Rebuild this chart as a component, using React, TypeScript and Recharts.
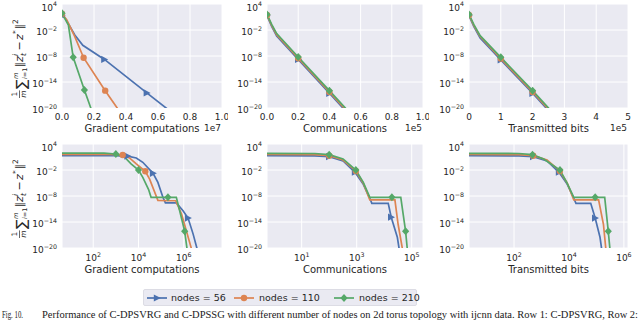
import React from "react";
import { CartesianGrid, Label, Line, LineChart, XAxis, YAxis } from "recharts";

const nodeCounts = [56, 110, 210];
const seriesColors = ["#4C72B0", "#DD8452", "#55A868"];

// Row 1: C-DPSVRG (linear x)
const svrgGradX56 = [0, 2e5, 8e5, 1.3e6, 2.65e6, 5.3e6, 8e6];
const svrgGradY56 = [20, 5, 7e-4, 3e-6, 1.6e-9, 3e-17, 5e-25];
const svrgGradMarks56 = [0, 4, 5];
const svrgGradX110 = [0, 3e5, 8e5, 1.35e6, 2.7e6, 3.45e6, 4.5e6];
const svrgGradY110 = [60, 2, 3e-4, 4e-9, 1e-16, 1e-20, 3e-26];
const svrgGradMarks110 = [0, 3, 4];
const svrgGradX210 = [0, 4e5, 7e5, 1.4e6, 1.8e6, 2.5e6];
const svrgGradY210 = [70, 0.14, 5e-9, 1.4e-16, 1e-20, 1e-27];
const svrgGradMarks210 = [0, 2, 3];

const svrgCommX = [0, 3e3, 6.2e3, 2e4, 4e4, 6e4];
const svrgCommY56 = [20, 0.07, 4e-4, 1.6e-9, 2.5e-17, 3.5e-25];
const svrgCommY110 = [30, 0.12, 8e-4, 3e-9, 5e-17, 7e-25];
const svrgCommY210 = [40, 0.2, 1.5e-3, 6e-9, 1e-16, 1.5e-24];
const svrgCommMarks = [0, 3, 4];

const svrgBitsX = [0, 1.5e4, 3.5e4, 1e5, 2e5, 3e5];
const svrgBitsY56 = [20, 0.07, 1.5e-4, 1.2e-9, 2.5e-17, 2.5e-25];
const svrgBitsY110 = [30, 0.12, 3e-4, 2.5e-9, 5e-17, 5e-25];
const svrgBitsY210 = [40, 0.2, 5e-4, 5e-9, 1e-16, 1e-24];
const svrgBitsMarks = [0, 3, 4];

// Row 2: C-DPSSG (log x)
const ssgGradX56 = [3, 800, 3300, 8000, 1.55e4, 4.4e4, 7.2e4, 1.2e5, 1.55e5, 4.7e5, 9.3e5, 1.55e6, 2.6e6, 3.9e6, 6e6];
const ssgGradY56 = [20, 20, 16, 6, 0.6, 1.7e-3, 1.4e-5, 5e-9, 2.5e-10, 2.5e-10, 4e-12, 8e-14, 1.6e-17, 6e-21, 1e-25];
const ssgGradMarks56 = [2, 5, 11];
const ssgGradX110 = [3, 500, 2000, 4000, 8000, 2e4, 3.1e4, 7.2e4, 2e5, 4.4e5, 8e5, 1.3e6, 2.2e6, 3e6];
const ssgGradY110 = [40, 40, 30, 6, 0.25, 5e-3, 8e-5, 1e-9, 8e-10, 8e-10, 7e-13, 1e-16, 6e-21, 1e-24];
const ssgGradMarks110 = [2, 5];
const ssgGradX210 = [3, 300, 1000, 2500, 4700, 1e4, 1.55e4, 2.8e4, 3.6e4, 2e5, 4.7e5, 6.6e5, 1.1e6, 1.4e6, 2e6];
const ssgGradY210 = [80, 80, 50, 8, 0.25, 1e-2, 2e-4, 3e-7, 5e-9, 5e-9, 5e-9, 4e-12, 7e-17, 6e-21, 1e-25];
const ssgGradMarks210 = [2, 5, 9, 12];

const ssgCommX56 = [0.3, 30, 100, 320, 870, 1740, 3000, 3550, 1.4e4, 1.8e4, 3e4, 3.5e4, 4.2e4];
const ssgCommY56 = [20, 18, 12, 1.2, 3e-3, 5e-6, 3e-9, 2e-10, 2e-10, 1.3e-13, 3e-18, 6e-21, 1e-25];
const ssgCommMarks56 = [2, 4, 9];
const ssgCommX110 = [0.3, 30, 100, 320, 930, 1740, 3000, 2.45e4, 3.2e4, 4.6e4, 5.5e4];
const ssgCommY110 = [40, 35, 20, 2, 6e-3, 9e-6, 1.3e-9, 1.3e-9, 3e-15, 6e-21, 1e-25];
const ssgCommMarks110 = [2, 4];
const ssgCommX210 = [0.3, 30, 100, 320, 930, 1740, 3000, 1.9e4, 4e4, 6e4, 6.9e4, 8e4];
const ssgCommY210 = [70, 65, 35, 3.5, 1e-2, 1.4e-5, 5e-9, 5e-9, 5e-9, 7e-17, 6e-21, 1e-26];
const ssgCommMarks210 = [2, 4, 7, 9];

const ssgBitsX56 = [1, 150, 500, 1600, 4350, 8700, 1.5e4, 1.8e4, 6.2e4, 9e4, 1.35e5, 1.55e5, 1.9e5];
const ssgBitsY56 = [20, 18, 12, 1.2, 3e-3, 5e-6, 3e-9, 2e-10, 2e-10, 8e-14, 3e-18, 6e-21, 1e-25];
const ssgBitsMarks56 = [2, 4, 9];
const ssgBitsX110 = [1, 150, 500, 1600, 4650, 8700, 1.5e4, 1.2e5, 1.8e5, 2.2e5, 2.7e5];
const ssgBitsY110 = [40, 35, 20, 2, 6e-3, 9e-6, 1.3e-9, 1.3e-9, 3e-15, 6e-21, 1e-25];
const ssgBitsMarks110 = [2, 4];
const ssgBitsX210 = [1, 150, 470, 1200, 4700, 8300, 1.5e4, 9e4, 2e5, 2.7e5, 3.1e5, 3.6e5];
const ssgBitsY210 = [70, 65, 35, 3.5, 1e-2, 1.4e-5, 5e-9, 5e-9, 5e-9, 7e-17, 6e-21, 1e-26];
const ssgBitsMarks210 = [2, 4, 7, 9];

const yTicks = [1e4, 1e-2, 1e-8, 1e-14, 1e-20];
const gradTicks = [0, 2e6, 4e6, 6e6, 8e6, 1e7];
const commTicks = [0, 2e4, 4e4, 6e4, 8e4, 1e5];
const bitsTicks = [0, 1e5, 2e5, 3e5, 4e5, 5e5];
const logTicksEven = [1e2, 1e4, 1e6];
const logTicksOdd = [1e1, 1e3, 1e5];

const PLOT_H = 104;
const Y_AXIS_W = 50;
const M_TOP = 4;
const M_RIGHT = 6;
const X_AXIS_H = 32;
const textColor = "#262626";
const font = "DejaVu Sans";

type Row = { x: number; y: number };
type SeriesDef = { rows: Row[]; marks: number[] };

const toRows = (xs: number[], ys: number[]): Row[] => xs.map((x, i) => ({ x, y: ys[i] }));

const supText = (e: number) => (e < 0 ? "\u2212" + Math.abs(e) : String(e));

function Marker({ kind, cx, cy }: { kind: number; cx: number; cy: number }) {
    const color = seriesColors[kind];
    if (kind === 0) {
        return (
            <polygon
                points={`${cx - 3.2},${cy - 3.6} ${cx + 3.8},${cy} ${cx - 3.2},${cy + 3.6}`}
                fill={color}
            />
        );
    }
    if (kind === 1) {
        return <circle cx={cx} cy={cy} r={3.2} fill={color} />;
    }
    return (
        <polygon
            points={`${cx},${cy - 4} ${cx + 3.6},${cy} ${cx},${cy + 4} ${cx - 3.6},${cy}`}
            fill={color}
        />
    );
}

function YTick(props: any) {
    const { x, y, payload } = props;
    const e = Math.round(Math.log10(payload.value));
    // the top label sits a little lower so its exponent stays inside the figure
    const base = e === 4 ? y + 6.8 : y + 5.2;
    return (
        <text x={x - 5} y={base} textAnchor="end" fontSize={9} fontFamily={font} fill={textColor}>
            10
            <tspan dy={-4.5} fontSize={6.3}>
                {supText(e)}
            </tspan>
        </text>
    );
}

function LogXTick(props: any) {
    const { x, y, payload } = props;
    const e = Math.round(Math.log10(payload.value));
    return (
        <text x={x} y={y + 13.3} textAnchor="middle" fontSize={9} fontFamily={font} fill={textColor}>
            10
            <tspan dy={-4.5} fontSize={6.3}>
                {supText(e)}
            </tspan>
        </text>
    );
}

interface PanelProps {
    plotLeft: number;
    plotTop: number;
    plotWidth: number;
    series: SeriesDef[];
    xDomain: [number, number];
    xTicks: number[];
    xLog: boolean;
    xLabel: string;
    labelDy: number;
    offsetText?: string;
    tickFormat?: (v: number) => string;
}

function Panel({
    plotLeft,
    plotTop,
    plotWidth,
    series,
    xDomain,
    xTicks,
    xLog,
    xLabel,
    labelDy,
    offsetText,
    tickFormat,
}: PanelProps) {
    const width = Y_AXIS_W + plotWidth + M_RIGHT;
    const height = M_TOP + PLOT_H + X_AXIS_H;
    const bottom = M_TOP + PLOT_H;

    return (
        <div style={{ position: "absolute", left: plotLeft - Y_AXIS_W, top: plotTop - M_TOP }}>
            <LineChart
                width={width}
                height={height}
                margin={{ top: M_TOP, right: M_RIGHT, bottom: 0, left: 0 }}
            >
                <CartesianGrid fill="#EAEAF2" stroke="#ffffff" strokeWidth={1} />
                <XAxis
                    type="number"
                    dataKey="x"
                    scale={xLog ? "log" : "linear"}
                    domain={xDomain}
                    ticks={xTicks}
                    interval={0}
                    allowDataOverflow
                    axisLine={false}
                    tickLine={false}
                    tickSize={0}
                    tickMargin={0}
                    height={X_AXIS_H}
                    tick={
                        xLog
                            ? LogXTick
                            : (p: any) => (
                                  <text
                                      x={p.x}
                                      y={p.y + 12}
                                      textAnchor="middle"
                                      fontSize={9}
                                      fontFamily={font}
                                      fill={textColor}
                                  >
                                      {tickFormat ? tickFormat(p.payload.value) : p.payload.value}
                                  </text>
                              )
                    }
                >
                    <Label
                        content={() => (
                            <text
                                x={Y_AXIS_W + plotWidth / 2}
                                y={bottom + labelDy}
                                textAnchor="middle"
                                fontSize={10}
                                fontFamily={font}
                                fill={textColor}
                            >
                                {xLabel}
                            </text>
                        )}
                    />
                    {offsetText ? (
                        <Label
                            content={() => (
                                <text
                                    x={Y_AXIS_W + plotWidth - 1}
                                    y={bottom + 22.5}
                                    textAnchor="end"
                                    fontSize={9}
                                    fontFamily={font}
                                    fill={textColor}
                                >
                                    {offsetText}
                                </text>
                            )}
                        />
                    ) : null}
                </XAxis>
                <YAxis
                    type="number"
                    scale="log"
                    domain={[1e-20, 1e4]}
                    ticks={yTicks}
                    interval={0}
                    allowDataOverflow
                    axisLine={false}
                    tickLine={false}
                    tickSize={0}
                    tickMargin={0}
                    width={Y_AXIS_W}
                    tick={YTick}
                />
                {series.map((s, k) => (
                    <Line
                        key={nodeCounts[k]}
                        data={s.rows}
                        dataKey="y"
                        type="linear"
                        stroke={seriesColors[k]}
                        strokeWidth={1.7}
                        isAnimationActive={false}
                        activeDot={false}
                        dot={(p: any) =>
                            s.marks.includes(p.index) ? (
                                <Marker key={p.index} kind={k} cx={p.cx} cy={p.cy} />
                            ) : (
                                <g key={p.index} />
                            )
                        }
                    />
                ))}
            </LineChart>
        </div>
    );
}

function YAxisTitle({ top }: { top: number }) {
    return (
        <svg style={{ position: "absolute", left: 0, top }} width={34} height={104}>
            <g transform="translate(23,94) rotate(-90)" fontFamily={font} fill={textColor}>
                <text x={3.8} y={-6} fontSize={7.5} textAnchor="middle">1</text>
                <line x1={0} x2={7.6} y1={-3.5} y2={-3.5} stroke={textColor} strokeWidth={0.7} />
                <text x={3.8} y={3.3} fontSize={7.5} fontStyle="italic" textAnchor="middle">m</text>
                <text x={9} y={3} fontSize={14}>∑</text>
                <text x={19} y={-5.5} fontSize={6.5} fontStyle="italic">m</text>
                <text x={19} y={4.2} fontSize={6.5}>
                    <tspan fontStyle="italic">i</tspan>=1
                </text>
                <text x={30.5} y={0} fontSize={11}>‖</text>
                <text x={36} y={0} fontSize={11} fontStyle="italic">z</text>
                <text x={42} y={-5} fontSize={7.5} fontStyle="italic">i</text>
                <text x={42} y={2.8} fontSize={7.5} fontStyle="italic">t</text>
                <text x={47.5} y={0} fontSize={11}>−</text>
                <text x={58} y={0} fontSize={11} fontStyle="italic">z</text>
                <text x={64} y={-5} fontSize={7.5}>*</text>
                <text x={68.5} y={0} fontSize={11}>‖</text>
                <text x={74} y={-5} fontSize={7.5}>2</text>
            </g>
        </svg>
    );
}

function LegendKey({ kind }: { kind: number }) {
    return (
        <svg width={20} height={10} style={{ display: "block" }}>
            <line x1={0} x2={20} y1={5} y2={5} stroke={seriesColors[kind]} strokeWidth={1.7} />
            <Marker kind={kind} cx={10} cy={5} />
        </svg>
    );
}

const legendItems = [
    { key: 3, text: 27 },
    { key: 90, text: 115 },
    { key: 190, text: 215 },
];

export default function App() {
    const fmt1 = (scale: number) => (v: number) => (v / scale).toFixed(1);
    const fmt0 = (v: number) => String(Math.round(v / 1e5));

    const svrgGrad = [
        { rows: toRows(svrgGradX56, svrgGradY56), marks: svrgGradMarks56 },
        { rows: toRows(svrgGradX110, svrgGradY110), marks: svrgGradMarks110 },
        { rows: toRows(svrgGradX210, svrgGradY210), marks: svrgGradMarks210 },
    ];
    const svrgComm = [
        { rows: toRows(svrgCommX, svrgCommY56), marks: svrgCommMarks },
        { rows: toRows(svrgCommX, svrgCommY110), marks: svrgCommMarks },
        { rows: toRows(svrgCommX, svrgCommY210), marks: svrgCommMarks },
    ];
    const svrgBits = [
        { rows: toRows(svrgBitsX, svrgBitsY56), marks: svrgBitsMarks },
        { rows: toRows(svrgBitsX, svrgBitsY110), marks: svrgBitsMarks },
        { rows: toRows(svrgBitsX, svrgBitsY210), marks: svrgBitsMarks },
    ];
    const ssgGrad = [
        { rows: toRows(ssgGradX56, ssgGradY56), marks: ssgGradMarks56 },
        { rows: toRows(ssgGradX110, ssgGradY110), marks: ssgGradMarks110 },
        { rows: toRows(ssgGradX210, ssgGradY210), marks: ssgGradMarks210 },
    ];
    const ssgComm = [
        { rows: toRows(ssgCommX56, ssgCommY56), marks: ssgCommMarks56 },
        { rows: toRows(ssgCommX110, ssgCommY110), marks: ssgCommMarks110 },
        { rows: toRows(ssgCommX210, ssgCommY210), marks: ssgCommMarks210 },
    ];
    const ssgBits = [
        { rows: toRows(ssgBitsX56, ssgBitsY56), marks: ssgBitsMarks56 },
        { rows: toRows(ssgBitsX110, ssgBitsY110), marks: ssgBitsMarks110 },
        { rows: toRows(ssgBitsX210, ssgBitsY210), marks: ssgBitsMarks210 },
    ];

    return (
        <div
            style={{
                position: "absolute",
                left: 0,
                top: 0,
                width: 640,
                height: 320,
                background: "#ffffff",
                overflow: "hidden",
                fontFamily: font,
            }}
        >
            <Panel plotLeft={62} plotTop={4} plotWidth={160} series={svrgGrad} xDomain={[0, 1e7]}
                xTicks={gradTicks} xLog={false} xLabel="Gradient computations" labelDy={23.5}
                offsetText="1e7" tickFormat={fmt1(1e7)} />
            <Panel plotLeft={267} plotTop={4} plotWidth={156} series={svrgComm} xDomain={[0, 1e5]}
                xTicks={commTicks} xLog={false} xLabel="Communications" labelDy={23.5}
                offsetText="1e5" tickFormat={fmt1(1e5)} />
            <Panel plotLeft={469} plotTop={4} plotWidth={159} series={svrgBits} xDomain={[0, 5e5]}
                xTicks={bitsTicks} xLog={false} xLabel="Transmitted bits" labelDy={23.5}
                offsetText="1e5" tickFormat={fmt0} />

            <Panel plotLeft={62} plotTop={144} plotWidth={160} series={ssgGrad} xDomain={[4.17, 4.9e7]}
                xTicks={logTicksEven} xLog xLabel="Gradient computations" labelDy={25} />
            <Panel plotLeft={267} plotTop={144} plotWidth={156} series={ssgComm} xDomain={[0.55, 2.57e5]}
                xTicks={logTicksOdd} xLog xLabel="Communications" labelDy={25} />
            <Panel plotLeft={469} plotTop={144} plotWidth={159} series={ssgBits} xDomain={[2.3, 1.41e6]}
                xTicks={logTicksEven} xLog xLabel="Transmitted bits" labelDy={25} />

            <YAxisTitle top={4} />
            <YAxisTitle top={144} />

            <div
                style={{
                    position: "absolute",
                    left: 143,
                    top: 289,
                    width: 274,
                    height: 17,
                    boxSizing: "border-box",
                    background: "#EAEAF2",
                    border: "1px solid #DCDCE4",
                    borderRadius: 2,
                }}
            >
                {nodeCounts.map((n, k) => (
                    <React.Fragment key={n}>
                        <div style={{ position: "absolute", left: legendItems[k].key, top: 3 }}>
                            <LegendKey kind={k} />
                        </div>
                        <div
                            style={{
                                position: "absolute",
                                left: legendItems[k].text,
                                top: 1,
                                fontSize: 9.5,
                                lineHeight: "14px",
                                color: textColor,
                                whiteSpace: "nowrap",
                            }}
                        >
                            nodes = {n}
                        </div>
                    </React.Fragment>
                ))}
            </div>

            <svg style={{ position: "absolute", left: 0, top: 306 }} width={640} height={14}>
                <text x={2} y={12} fontSize={10} fontFamily="Liberation Serif" fill="#1a1a1a"
                    textLength={21} lengthAdjust="spacingAndGlyphs">
                    Fig. 10.
                </text>
                <text x={42} y={12} fontSize={10} fontFamily="Liberation Serif" fill="#1a1a1a"
                    textLength={596} lengthAdjust="spacingAndGlyphs">
                    Performance of C-DPSVRG and C-DPSSG with different number of nodes on 2d torus topology with ijcnn data. Row 1: C-DPSVRG, Row 2:
                </text>
            </svg>
        </div>
    );
}
